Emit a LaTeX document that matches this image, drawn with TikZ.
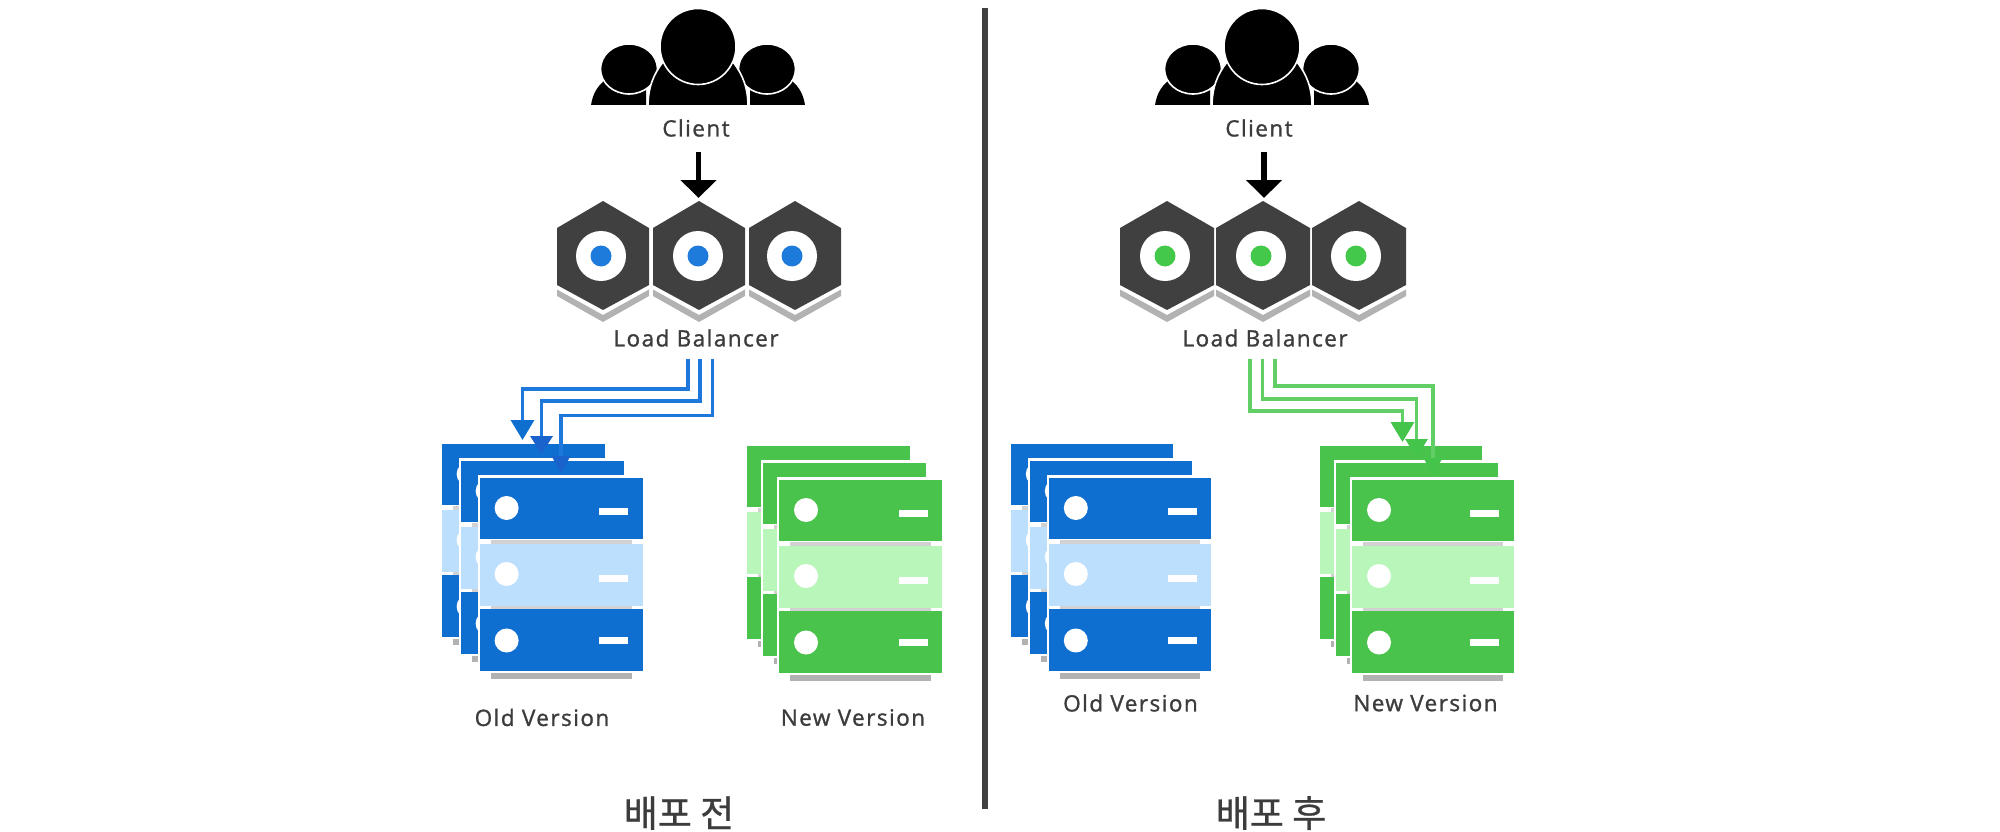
\documentclass[tikz,border=0pt]{standalone}
\usepackage{fontspec}
\setmainfont{Open Sans}[LetterSpace=6.5,FakeBold=1.2]
\newfontfamily\krfont{Noto Sans CJK KR}[FakeBold=0.8]
\usetikzlibrary{arrows.meta}
\definecolor{bluedark}{HTML}{0E6FD1}
\definecolor{bluelight}{HTML}{BCDFFE}
\definecolor{bluewire}{HTML}{1E78DC}
\definecolor{bluehead}{HTML}{1A62CC}
\definecolor{greendark}{HTML}{4AC34C}
\definecolor{greenlight}{HTML}{B9F6B9}
\definecolor{greenwire}{HTML}{62CF66}
\definecolor{greenhead}{HTML}{44C44A}
\definecolor{dotblue}{HTML}{1E7BDC}
\definecolor{dotgreen}{HTML}{44C84A}
\definecolor{hexgray}{HTML}{404040}
\definecolor{txt}{HTML}{3C3C3C}
\tikzset{
  label/.style={font=\fontsize{22.5}{24}\selectfont, text=txt, inner sep=0pt},
  title/.style={font=\krfont\fontsize{37}{40}\selectfont, text=txt, inner sep=0pt},
  person/.style={fill=black, draw=white, line width=1.6pt},
  wire/.style={line width=3.5pt},
  bigarrow/.style={line width=5.5pt, black, -{Triangle[width=35pt,length=18pt]}},
}
% one server layer: x, y, width, dark, light
\newcommand{\srvlayer}[5]{%
  \begin{scope}[shift={(#1,#2)}]
    \fill[white] (-2,-2.5) rectangle (#3+1.5,195);
    \fill[gray!60] (11,195.5) rectangle (#3-11,201.5);
    \fill[gray!35] (11,62) rectangle (#3-11,66);
    \fill[gray!35] (11,128.5) rectangle (#3-11,131.5);
    \fill[#4] (0,0) rectangle (#3,61.5);
    \fill[#5] (0,66.5) rectangle (#3,128);
    \fill[#4] (0,131.5) rectangle (#3,193);
    \fill[white] (27,30.5) circle (12);
    \fill[white] (27,96.5) circle (12);
    \fill[white] (27,163) circle (12);
    \fill[white] (#3-43.5,30.5) rectangle (#3-14.5,37.5);
    \fill[white] (#3-43.5,97) rectangle (#3-14.5,104);
    \fill[white] (#3-43.5,159) rectangle (#3-14.5,166);
  \end{scope}}
% stack: x of front, y of front, x step, width, dark, light
\newcommand{\srvstack}[6]{%
  \srvlayer{#1-2*#3}{#2-34}{#4}{#5}{#6}
  \srvlayer{#1-#3}{#2-17}{#4}{#5}{#6}
  \srvlayer{#1}{#2}{#4}{#5}{#6}}
% client icon centred on x
\newcommand{\clienticon}[1]{%
  \begin{scope}[shift={(#1,0)}]
    \fill (-107,105) .. controls (-105,92) and (-99,84) .. (-90,78) -- (-52,78) -- (-52,105) -- cycle;
    \fill (107,105) .. controls (105,92) and (99,84) .. (90,78) -- (52,78) -- (52,105) -- cycle;
    \filldraw[person] (-69,69) ellipse (28.5 and 25);
    \filldraw[person] (69,69) ellipse (28.5 and 25);
    \filldraw[person] (-50,107) .. controls (-50,88) and (-45,75) .. (-35,62) -- (35,62) .. controls (45,75) and (50,88) .. (50,107) -- cycle;
    \filldraw[person] (0,46.5) circle (38);
    \fill[white] (-112,105.5) rectangle (112,110);
  \end{scope}}
% hexagon: x, dot colour, dot offset, half width
\newcommand{\hexunit}[4]{%
  \begin{scope}[shift={(#1,0)}]
    \fill[gray!60] (-#4,289.5) -- (0,315) -- (#4,289.5) -- (#4,296) -- (0,322) -- (-#4,296) -- cycle;
    \fill[hexgray] (0,201) -- (#4,228) -- (#4,285) -- (0,310) -- (-#4,285) -- (-#4,228) -- cycle;
    \fill[white] (#3,256) circle (25);
    \fill[#2] (#3,256) circle (10.5);
  \end{scope}}
\begin{document}
\begin{tikzpicture}[x=1pt,y=-1pt]
\useasboundingbox (0,0) rectangle (2000,832);
\fill[white] (0,0) rectangle (2000,832);

% divider
\coordinate (divtop) at (985,8);
\coordinate (divbot) at (985,809);
\draw[line width=6pt, hexgray] (divtop) -- (divbot);

% ---------- left ----------
\clienticon{698}
\node[label] (clientL) at (696,128) {Client};
\hexunit{603}{dotblue}{-2}{46}
\hexunit{699}{dotblue}{-1}{46}
\hexunit{795}{dotblue}{-3}{46}
\node[label] (lbL) at (696,338) {Load Balancer};
\srvstack{479.6}{477.5}{19}{163}{bluedark}{bluelight}
\srvstack{779}{479.5}{16}{163}{greendark}{greenlight}
\node[label] (oldL) at (542,717.5) {Old Version};
\node[label] (newL) at (853,717.5) {New Version};
\node[title] (titleL) at (679,813) {배포 전};

\coordinate (inL) at (698.5,152);
\coordinate (hexL) at (698.5,198);
\draw[bigarrow] (inL) -- (hexL);

\coordinate (sL1) at (688,359);
\coordinate (sL2) at (700,359);
\coordinate (sL3) at (712.5,359);
\coordinate (cL1) at (522.5,389);
\coordinate (cL2) at (541.5,401);
\coordinate (cL3) at (561,415.5);
\coordinate (eL1) at (522.5,440);
\coordinate (eL2) at (541.5,454);
\coordinate (eL3) at (561,473);
\draw[wire, bluewire, -{Triangle[width=23pt,length=20pt,color=bluedark]}] (sL1) |- (cL1) -- (eL1);
\draw[wire, bluewire, -{Triangle[width=22pt,length=18pt,color=bluehead]}] (sL2) |- (cL2) -- (eL2);
\draw[wire, bluewire, -{Triangle[width=18pt,length=17pt,color=bluehead]}] (sL3) |- (cL3) -- (eL3);

% ---------- right ----------
\clienticon{1262}
\node[label] (clientR) at (1259,128) {Client};
\hexunit{1167}{dotgreen}{-2}{47}
\hexunit{1263}{dotgreen}{-2}{47}
\hexunit{1359}{dotgreen}{-3}{47}
\node[label] (lbR) at (1265,338) {Load Balancer};
\srvstack{1048.8}{477.5}{19}{162.5}{bluedark}{bluelight}
\srvstack{1352}{479.5}{16}{161.5}{greendark}{greenlight}
\node[label] (oldR) at (1130.5,703) {Old Version};
\node[label] (newR) at (1425.5,703) {New Version};
\node[title] (titleR) at (1271,813) {배포 후};

\coordinate (inR) at (1264,152);
\coordinate (hexR) at (1264,198);
\draw[bigarrow] (inR) -- (hexR);

\coordinate (sR1) at (1250,359);
\coordinate (sR2) at (1262.5,359);
\coordinate (sR3) at (1275,359);
\coordinate (cR1) at (1402.5,411);
\coordinate (cR2) at (1416.5,399);
\coordinate (cR3) at (1433,386);
\coordinate (eR1) at (1402.5,442);
\coordinate (eR2) at (1416.5,457);
\coordinate (eR3) at (1433,475);
\draw[wire, greenwire, -{Triangle[width=23pt,length=20pt,color=greenhead]}] (sR1) |- (cR1) -- (eR1);
\draw[wire, greenwire, -{Triangle[width=22pt,length=18pt,color=greenhead]}] (sR2) |- (cR2) -- (eR2);
\draw[wire, greenwire, -{Triangle[width=18pt,length=17pt,color=greenhead]}] (sR3) |- (cR3) -- (eR3);
\end{tikzpicture}
\end{document}
